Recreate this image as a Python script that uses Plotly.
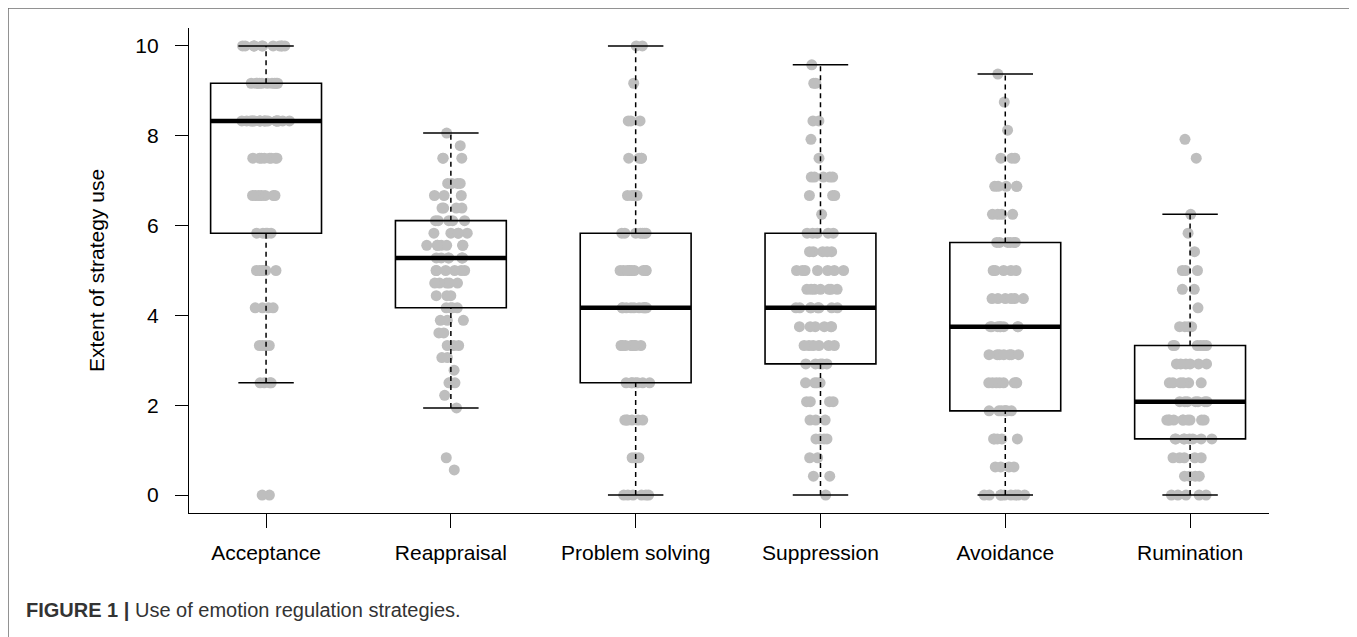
import numpy as np
import plotly.graph_objects as go

# ---------------- data ----------------
categories = ["Acceptance", "Reappraisal", "Problem solving",
              "Suppression", "Avoidance", "Rumination"]

acceptance_levels = [10, 9.17, 8.33, 7.5, 6.67, 5.83, 5.0, 4.17, 3.33, 2.5, 0]
acceptance_counts = [12, 10, 20, 8, 7, 5, 6, 4, 4, 4, 2]

reappraisal_levels = [8.06, 7.78, 7.5, 6.94, 6.67, 6.39, 6.11, 5.83, 5.56, 5.28,
                      5.0, 4.72, 4.44, 4.17, 3.89, 3.61, 3.33, 3.06, 2.78, 2.5,
                      2.22, 1.94, 0.83, 0.56]
reappraisal_counts = [1, 1, 3, 4, 3, 4, 5, 5, 7, 7,
                      6, 5, 3, 4, 3, 2, 3, 2, 1, 3,
                      1, 1, 1, 1]

problem_levels = [10, 9.17, 8.33, 7.5, 6.67, 5.83, 5.0, 4.17, 3.33, 2.5, 1.67, 0.83, 0]
problem_counts = [2, 1, 3, 4, 4, 7, 10, 10, 8, 7, 6, 3, 6]

suppression_levels = [9.58, 9.17, 8.33, 7.92, 7.5, 7.08, 6.67, 6.25, 5.83, 5.42,
                      5.0, 4.58, 4.17, 3.75, 3.33, 2.92, 2.5, 2.08, 1.67, 1.25,
                      0.83, 0.42, 0]
suppression_counts = [1, 2, 2, 1, 1, 5, 3, 1, 5, 5,
                      7, 7, 8, 6, 6, 5, 4, 4, 3, 4,
                      2, 2, 1]

avoidance_levels = [9.375, 8.75, 8.125, 7.5, 6.875, 6.25, 5.625, 5.0, 4.375,
                    3.75, 3.125, 2.5, 1.875, 1.25, 0.625, 0]
avoidance_counts = [1, 1, 1, 3, 5, 4, 6, 5, 6, 8, 7, 8, 7, 5, 4, 9]

rumination_levels = [7.92, 7.5, 6.25, 5.83, 5.42, 5.0, 4.58, 4.17, 3.75, 3.33,
                     2.92, 2.5, 2.08, 1.67, 1.25, 0.83, 0.42, 0]
rumination_counts = [1, 1, 1, 1, 1, 3, 2, 1, 4, 6, 6, 6, 7, 10, 8, 5, 4, 5]

# box statistics
q1 = [5.83, 4.17, 2.5, 2.92, 1.875, 1.25]
median = [8.33, 5.28, 4.17, 4.17, 3.75, 2.08]
q3 = [9.17, 6.11, 5.83, 5.83, 5.625, 3.33]
whisker_low = [2.5, 1.94, 0, 0, 0, 0]
whisker_high = [10, 8.06, 10, 9.58, 9.375, 6.25]

y_ticks = [0, 2, 4, 6, 8, 10]
y_title = "Extent of strategy use"
caption_bold = "FIGURE 1 |"
caption_text = "Use of emotion regulation strategies."

# ---------------- layout constants ----------------
OFF = 8                      # page body margin of the browser
W, H = 1357 - OFF, 637 - OFF
L, R, T, B = 189 - OFF, 88, 28 - OFF, 124
FONT = "Liberation Sans, Arial, Helvetica, sans-serif"
PT_COLOR = "rgb(190,190,190)"
BOX_HALF = 0.3
CAP_HALF = 0.15

def px_x(px):
    return (px - OFF - L) / (W - L - R)

def px_y(py):
    return (H - B - (py - OFF)) / (H - T - B)

level_sets = [
    (acceptance_levels, acceptance_counts),
    (reappraisal_levels, reappraisal_counts),
    (problem_levels, problem_counts),
    (suppression_levels, suppression_counts),
    (avoidance_levels, avoidance_counts),
    (rumination_levels, rumination_counts),
]

fig = go.Figure()

for i, (lev, cnt) in enumerate(level_sets):
    vals = np.repeat(np.array(lev, dtype=float), np.array(cnt))
    pos = i + 1
    fig.add_trace(go.Box(
        x=[pos] * len(vals), y=vals,
        boxpoints="all", jitter=0.45, pointpos=0, width=2 * BOX_HALF,
        line=dict(width=0, color="rgba(0,0,0,0)"),
        fillcolor="rgba(0,0,0,0)",
        marker=dict(color=PT_COLOR, size=11, opacity=1, line=dict(width=0)),
        hoverinfo="skip", showlegend=False, name=categories[i],
    ))

shapes = []
for i in range(len(categories)):
    pos = i + 1
    # whiskers (dashed)
    shapes.append(dict(type="line", xref="x", yref="y", x0=pos, x1=pos,
                       y0=q3[i], y1=whisker_high[i], layer="above",
                       line=dict(color="black", width=1.5, dash="5px,4px")))
    shapes.append(dict(type="line", xref="x", yref="y", x0=pos, x1=pos,
                       y0=whisker_low[i], y1=q1[i], layer="above",
                       line=dict(color="black", width=1.5, dash="5px,4px")))
    # caps
    for yv in (whisker_high[i], whisker_low[i]):
        shapes.append(dict(type="line", xref="x", yref="y",
                           x0=pos - CAP_HALF, x1=pos + CAP_HALF, y0=yv, y1=yv,
                           layer="above", line=dict(color="black", width=1.5)))
    # box
    shapes.append(dict(type="rect", xref="x", yref="y",
                       x0=pos - BOX_HALF, x1=pos + BOX_HALF, y0=q1[i], y1=q3[i],
                       layer="above", line=dict(color="black", width=1.6),
                       fillcolor="rgba(0,0,0,0)"))
    # median
    shapes.append(dict(type="line", xref="x", yref="y",
                       x0=pos - BOX_HALF, x1=pos + BOX_HALF,
                       y0=median[i], y1=median[i], layer="above",
                       line=dict(color="black", width=4.5)))

# outer frame (top, left, right)
border = dict(color="#6e6e6e", width=1.5)
shapes.append(dict(type="line", xref="paper", yref="paper",
                   x0=px_x(8), x1=px_x(1351), y0=px_y(8), y1=px_y(8), line=border))
shapes.append(dict(type="line", xref="paper", yref="paper",
                   x0=px_x(8), x1=px_x(8), y0=px_y(8), y1=px_y(660), line=border))
shapes.append(dict(type="line", xref="paper", yref="paper",
                   x0=px_x(1351), x1=px_x(1351), y0=px_y(8), y1=px_y(660), line=border))

fig.update_layout(
    width=W, height=H,
    margin=dict(l=L, r=R, t=T, b=B, pad=0),
    paper_bgcolor="white", plot_bgcolor="white",
    font=dict(family=FONT, size=21, color="black"),
    shapes=shapes,
    showlegend=False,
    boxmode="overlay",
    annotations=[dict(
        xref="paper", yref="paper", x=px_x(24), y=px_y(610),
        xanchor="left", yanchor="middle", showarrow=False,
        text=f"<b>{caption_bold}</b> {caption_text}",
        font=dict(family=FONT, size=20, color="#333333"),
    )],
)

fig.update_xaxes(
    range=[0.583, 6.427], tickmode="array",
    tickvals=list(range(1, len(categories) + 1)), ticktext=categories,
    showline=True, linecolor="black", linewidth=1.3,
    ticks="outside", ticklen=14, tickwidth=1.3, tickcolor="black",
    showgrid=False, zeroline=False, ticklabelstandoff=7,
    tickfont=dict(family=FONT, size=21, color="black"),
)
fig.update_yaxes(
    range=[-0.4, 10.4], tickmode="array", tickvals=y_ticks,
    ticktext=[str(v) for v in y_ticks],
    showline=True, linecolor="black", linewidth=1.3,
    ticks="outside", ticklen=13, tickwidth=1.3, tickcolor="black",
    showgrid=False, zeroline=False, ticklabelstandoff=12,
    tickfont=dict(family=FONT, size=21, color="black"),
    title=dict(text=y_title, standoff=24,
               font=dict(family=FONT, size=21, color="black")),
)

fig.write_html("out.html")
